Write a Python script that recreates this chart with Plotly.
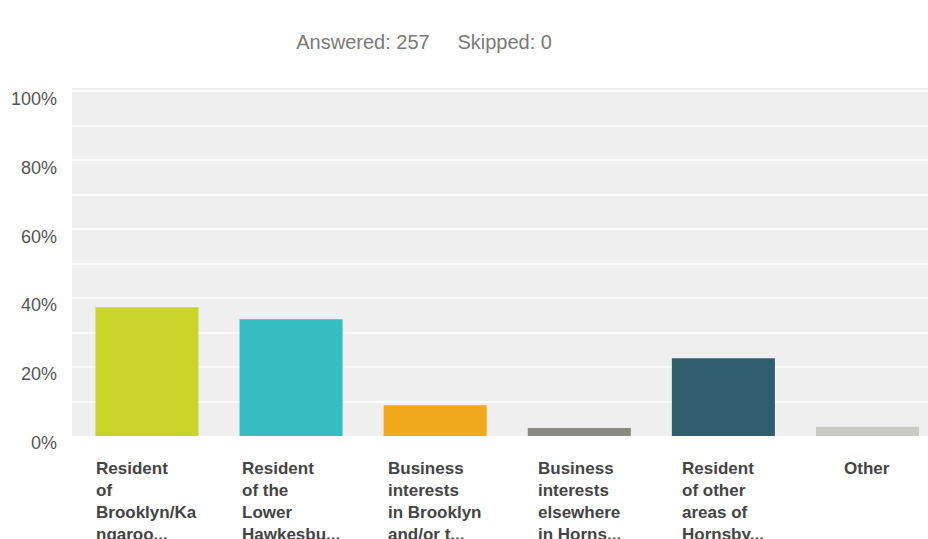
import plotly.graph_objects as go

# Survey responses: share of the 257 respondents choosing each option
categories = [
    "Resident<br>of<br>Brooklyn/Ka<br>ngaroo...",
    "Resident<br>of the<br>Lower<br>Hawkesbu...",
    "Business<br>interests<br>in Brooklyn<br>and/or t...",
    "Business<br>interests<br>elsewhere<br>in Horns...",
    "Resident<br>of other<br>areas of<br>Hornsby...",
    "Other",
]
percent = [37.35, 33.85, 8.95, 2.33, 22.57, 2.72]
answered = 257
skipped = 0
y_ticks = [0, 20, 40, 60, 80, 100]
y_minor = [10, 30, 50, 70, 90]

bar_colors = ["#c9d42b", "#36bdc0", "#f1a91c", "#8a8a82", "#2f5e6c", "#c9cac3"]
FONT = "Liberation Sans, Arial, sans-serif"

positions = list(range(len(categories)))

fig = go.Figure(
    go.Bar(
        x=positions,
        y=percent,
        marker=dict(color=bar_colors, line=dict(width=0)),
        width=0.715,
        hoverinfo="skip",
    )
)

annotations = []
for i, label in zip(positions, categories):
    annotations.append(
        dict(
            x=i, xref="x", y=0, yref="paper",
            yanchor="top", xanchor="center", yshift=-21,
            text=label, align="left", showarrow=False,
            font=dict(family=FONT, size=17, color="#444444", weight="bold"),
        )
    )

fig.update_layout(
    width=928,
    height=539,
    margin=dict(l=72, r=0, t=88, b=103),
    paper_bgcolor="white",
    plot_bgcolor="#efefef",
    showlegend=False,
    title=dict(
        text=f"Answered: {answered}\u00a0\u00a0\u00a0\u00a0\u00a0Skipped: {skipped}",
        x=0.457, xanchor="center", xref="container",
        y=1 - 42 / 539, yanchor="middle", yref="container",
        font=dict(family=FONT, size=20, color="#7a7a7a"),
    ),
    annotations=annotations,
    bargap=0.3,
)

fig.update_xaxes(
    type="linear",
    range=[-0.52, 5.42],
    showticklabels=False,
    showgrid=False,
    zeroline=False,
    ticks="",
)

fig.update_yaxes(
    range=[0, 101],
    tickvals=y_ticks,
    ticktext=[f"{v}%" for v in y_ticks],
    showgrid=True,
    gridcolor="#fbfbfb",
    gridwidth=2,
    minor=dict(tickvals=y_minor, showgrid=True, gridcolor="#fbfbfb", gridwidth=2, ticks=""),
    zeroline=False,
    ticks="",
    ticklabelshift=7,
    ticklabelstandoff=14,
    tickfont=dict(family=FONT, size=18, color="#555555"),
)

fig.write_html("out.html")
